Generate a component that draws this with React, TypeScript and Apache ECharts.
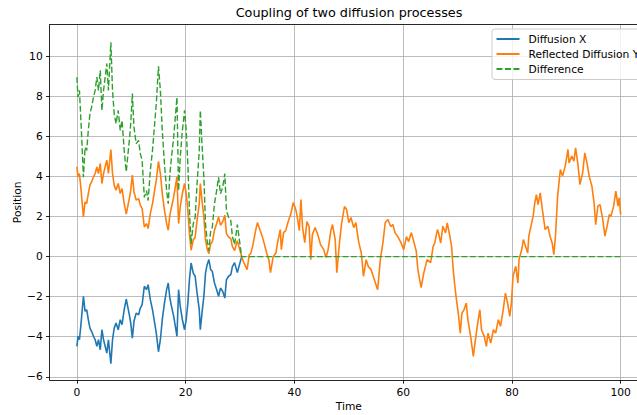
import React, { useEffect, useRef } from "react";
import * as echarts from "echarts";

// Before coupling: times and values of Diffusion X, Reflected Y and their difference
const timeBefore = [
  0.0, 0.2, 0.47, 0.77, 1.2, 1.5, 1.8, 2.1, 2.4, 2.7, 3.05, 3.36, 3.67, 3.97, 4.3, 4.6, 4.9, 5.2, 5.5, 5.8,
  6.25, 6.55, 6.86, 7.2, 7.6, 7.97, 8.3, 8.7, 9.08, 9.4, 9.7, 9.9, 10.2, 10.5, 10.9, 11.35, 11.66, 12.0, 12.4, 12.8,
  13.1, 13.5, 13.9, 14.2, 14.6, 15.0, 15.35, 15.7, 16.1, 16.5, 16.8, 17.1, 17.4, 17.8, 18.2, 18.4, 18.7, 19.0, 19.4, 19.8,
  20.1, 20.4, 20.7, 21.0, 21.4, 21.75, 22.1, 22.5, 22.7, 23.0, 23.35, 23.65, 23.95, 24.27, 24.6, 24.9, 25.3, 25.7, 26.05, 26.4,
  26.8, 27.2, 27.5, 27.9, 28.3, 28.6, 29.0, 29.5, 30.0, 30.3,
];
const diffusionX = [
  -4.48, -3.98, -4.15, -3.32, -1.98, -2.73, -2.65, -3.15, -3.57, -3.73, -3.98, -4.15, -4.48, -4.15, -4.65, -3.65, -4.15, -4.48, -4.82, -4.15,
  -5.35, -4.15, -3.57, -3.32, -3.65, -3.15, -3.4, -2.65, -2.12, -2.57, -2.98, -3.32, -4.07, -3.23, -2.82, -2.9, -2.57, -2.4, -1.48, -1.65,
  -1.4, -2.15, -2.65, -3.15, -3.82, -4.75, -4.15, -3.15, -2.32, -1.65, -1.32, -2.07, -2.48, -2.98, -3.65, -3.98, -1.65, -2.48, -3.15, -3.65,
  -3.15, -2.32, -1.15, -0.32, -0.82, -0.98, -1.82, -2.65, -3.65, -2.82, -1.98, -0.82, -0.4, -0.15, -0.65, -0.73, -1.32, -1.65, -1.98, -1.57,
  -1.73, -2.07, -1.15, -0.98, -0.9, -0.5, -0.3, -0.8, -0.3, 0.0,
];
const reflectedBefore = [
  4.48, 3.98, 4.15, 3.32, 1.98, 2.73, 2.65, 3.15, 3.57, 3.73, 3.98, 4.15, 4.48, 4.15, 4.65, 3.65, 4.15, 4.48, 4.82, 4.15,
  5.35, 4.15, 3.57, 3.32, 3.65, 3.15, 3.4, 2.65, 2.12, 2.57, 2.98, 3.32, 4.07, 3.23, 2.82, 2.9, 2.57, 2.4, 1.48, 1.65,
  1.4, 2.15, 2.65, 3.15, 3.82, 4.75, 4.15, 3.15, 2.32, 1.65, 1.32, 2.07, 2.48, 2.98, 3.65, 3.98, 1.65, 2.48, 3.15, 3.65,
  3.15, 2.32, 1.15, 0.32, 0.82, 0.98, 1.82, 2.65, 3.65, 2.82, 1.98, 0.82, 0.4, 0.15, 0.65, 0.73, 1.32, 1.65, 1.98, 1.57,
  1.73, 2.07, 1.15, 0.98, 0.9, 0.5, 0.3, 0.8, 0.3, 0.0,
];
const differenceBefore = [
  8.96, 7.96, 8.3, 6.64, 3.96, 5.46, 5.3, 6.3, 7.14, 7.46, 7.96, 8.3, 8.96, 8.3, 9.3, 7.3, 8.3, 8.96, 9.64, 8.3,
  10.7, 8.3, 7.14, 6.64, 7.3, 6.3, 6.8, 5.3, 4.24, 5.14, 5.96, 6.64, 8.14, 6.46, 5.64, 5.8, 5.14, 4.8, 2.96, 3.3,
  2.8, 4.3, 5.3, 6.3, 7.64, 9.5, 8.3, 6.3, 4.64, 3.3, 2.64, 4.14, 4.96, 5.96, 7.3, 7.96, 3.3, 4.96, 6.3, 7.3,
  6.3, 4.64, 2.3, 0.64, 1.64, 1.96, 3.64, 5.3, 7.3, 5.64, 3.96, 1.64, 0.8, 0.3, 1.3, 1.46, 2.64, 3.3, 3.96, 3.14,
  3.46, 4.14, 2.3, 1.96, 1.8, 1.0, 0.6, 1.6, 0.6, 0.0,
];

// After coupling: Reflected Y follows X, difference is zero
const timeAfter = [
  30.7, 31.3, 31.7, 31.96, 32.3, 32.9, 33.2, 33.7, 34.1, 34.4, 34.9, 35.3, 35.6, 36.1, 36.6, 36.9, 37.4, 37.6, 38.0, 38.4,
  38.8, 39.3, 39.8, 40.3, 40.6, 40.9, 41.2, 41.5, 41.9, 42.3, 42.7, 43.0, 43.3, 43.8, 44.3, 44.8, 45.4, 45.8, 46.2, 46.7,
  47.0, 47.5, 47.8, 48.3, 48.7, 49.2, 49.6, 50.0, 50.4, 50.9, 51.3, 51.8, 52.3, 52.7, 53.2, 53.6, 54.1, 54.7, 55.3, 55.8,
  56.3, 56.7, 57.2, 57.7, 58.1, 58.5, 59.0, 59.6, 60.1, 60.6, 61.0, 61.5, 62.0, 62.4, 62.7, 63.3, 63.8, 64.4, 65.05, 65.5,
  65.8, 66.3, 66.5, 66.9, 67.3, 67.8, 68.1, 68.6, 68.9, 69.2, 69.5, 69.8, 70.2, 70.5, 70.8, 71.2, 71.6, 71.9, 72.4, 72.9,
  73.2, 73.7, 74.1, 74.4, 74.9, 75.3, 75.6, 76.1, 76.6, 77.0, 77.5, 77.9, 78.4, 78.8, 79.2, 79.6, 79.9, 80.2, 80.7, 81.1,
  81.3, 81.8, 82.1, 82.5, 82.9, 83.1, 83.5, 83.9, 84.2, 84.5, 84.8, 85.2, 85.6, 86.1, 86.6, 87.0, 87.4, 87.7, 88.0, 88.4,
  88.9, 89.3, 89.8, 90.3, 90.5, 91.0, 91.4, 91.7, 92.1, 92.5, 93.0, 93.4, 93.8, 94.2, 94.7, 95.1, 95.4, 95.8, 96.2, 96.7,
  97.1, 97.5, 97.9, 98.2, 98.7, 99.1, 99.5, 99.7, 100.0,
];
const reflectedAfter = [
  -0.3, -0.65, 0.1, 0.15, 0.5, 1.35, 1.7, 1.3, 1.0, 0.7, 0.18, -0.15, -0.8, 0.0, 0.18, 0.7, 1.35, 0.35, 1.2, 1.3,
  1.7, 2.1, 2.7, 2.3, 1.85, 1.3, 2.85, 1.45, 0.7, 1.75, 1.5, -0.15, 1.1, 1.45, 1.1, 0.6, 0.35, -0.05, 0.35, 1.3,
  1.6, 0.85, -0.8, 0.75, 1.7, 2.5, 2.35, 1.7, 1.95, 1.45, 1.7, 0.75, 0.18, -0.98, -0.15, -0.5, -0.65, -1.15, -1.65, -0.15,
  0.75, 1.7, 1.85, 1.5, 1.6, 1.2, 1.0, 0.7, 0.35, 1.0, 0.75, 1.2, 0.7, 0.28, -0.65, -1.55, -0.8, -0.15, -0.3, 0.5,
  0.68, 1.35, 1.18, 0.68, 1.52, 1.18, 1.68, 1.0, 0.5, -0.65, -1.48, -2.15, -2.98, -3.82, -2.82, -2.65, -2.32, -3.15, -3.98, -4.98,
  -4.32, -3.32, -2.65, -3.65, -3.98, -4.48, -3.82, -4.32, -3.65, -3.82, -3.15, -3.48, -2.65, -1.82, -2.32, -2.98, -2.32, -0.98, -0.48, -1.32,
  -0.15, 0.35, 0.85, 0.52, 0.18, 1.02, 1.52, 2.02, 2.68, 3.1, 2.6, 3.18, 2.35, 1.35, 1.52, 1.02, 0.68, 0.1, 1.02, 3.02,
  4.35, 4.02, 4.52, 5.35, 4.68, 5.02, 4.77, 5.43, 4.68, 3.6, 4.18, 5.18, 4.68, 4.02, 3.52, 2.68, 1.6, 2.52, 2.6, 1.85,
  1.02, 1.52, 2.1, 2.02, 2.52, 3.27, 2.52, 2.93, 2.1,
];
const timeDifferenceAfter = [30.3, 100.0];
const differenceAfter = [0.0, 0.0];

// Tick positions shown on the axes
const xTicks = [0, 20, 40, 60, 80, 100];
const yTicks = [-6, -4, -2, 0, 2, 4, 6, 8, 10];

const FONT = "DejaVu Sans";

export default function App() {
  const ref = useRef<HTMLDivElement>(null);

  useEffect(() => {
    document.body.style.margin = "0";
    if (!ref.current) return;
    const chart = echarts.init(ref.current, null, { renderer: "svg" });

    const xData = timeBefore.map((t, i) => [t, diffusionX[i]]);
    const yData = timeBefore
      .map((t, i) => [t, reflectedBefore[i]])
      .concat(timeAfter.map((t, i) => [t, reflectedAfter[i]]));
    const dData = timeBefore
      .map((t, i) => [t, differenceBefore[i]])
      .concat(timeDifferenceAfter.map((t, i) => [t, differenceAfter[i]]));

    const minusFmt = (v: number) => String(v).replace("-", "\u2212");
    const isTick = (list: number[], v: number) => list.some((t) => Math.abs(t - v) < 1e-6);

    const option: any = {
      animation: false,
      backgroundColor: "#ffffff",
      textStyle: { fontFamily: FONT },
      title: {
        text: "Coupling of two diffusion processes",
        left: 349,
        top: 6,
        textAlign: "center",
        padding: 0,
        textStyle: { fontFamily: FONT, fontSize: 12.8, fontWeight: "normal", color: "#000" },
      },
      legend: {
        orient: "vertical",
        left: 492,
        top: 29,
        itemWidth: 23,
        itemHeight: 11,
        itemGap: 4,
        padding: [4.5, 6, 5, 3.5],
        backgroundColor: "rgba(255,255,255,0.8)",
        borderColor: "#cccccc",
        borderWidth: 1,
        borderRadius: 3,
        itemStyle: { opacity: 0, borderWidth: 0 },
        textStyle: { fontFamily: FONT, fontSize: 10.7, color: "#000", padding: [0, 0, 0, 4] },
        data: ["Diffusion X", "Reflected Diffusion Y", "Difference"],
      },
      grid: {
        left: 49.7,
        top: 24.7,
        width: 598.2,
        height: 355.3,
        containLabel: false,
        outerBoundsMode: "none",
      },
      xAxis: [
        {
          type: "value",
          min: -5,
          max: 105,
          minInterval: 20,
          maxInterval: 20,
          name: "Time",
          nameLocation: "middle",
          nameGap: 21,
          nameMoveOverlap: false,
          nameTextStyle: { fontFamily: FONT, fontSize: 10.7, color: "#000" },
          axisLine: { show: true, onZero: false, lineStyle: { color: "#000", width: 0.85 } },
          axisTick: {
            show: true,
            inside: false,
            length: 3.7,
            customValues: xTicks,
            lineStyle: { color: "#000", width: 0.85 },
          },
          axisLabel: {
            margin: 7,
            fontFamily: FONT,
            fontSize: 10.7,
            color: "#000",
            formatter: (v: number) => (isTick(xTicks, v) ? minusFmt(v) : ""),
          },
          splitLine: { show: true, lineStyle: { color: "#b0b0b0", width: 0.85 } },
        },
        {
          type: "value",
          position: "top",
          min: -5,
          max: 105,
          axisLine: { show: true, onZero: false, lineStyle: { color: "#000", width: 0.85 } },
          axisTick: { show: false },
          axisLabel: { show: false },
          splitLine: { show: false },
        },
      ],
      yAxis: [
        {
          type: "value",
          min: -6.16,
          max: 11.58,
          minInterval: 2,
          maxInterval: 2,
          name: "Position",
          nameLocation: "middle",
          nameGap: 27,
          nameMoveOverlap: false,
          nameTextStyle: { fontFamily: FONT, fontSize: 10.7, color: "#000" },
          axisLine: { show: true, onZero: false, lineStyle: { color: "#000", width: 0.85 } },
          axisTick: {
            show: true,
            inside: false,
            length: 3.7,
            customValues: yTicks,
            lineStyle: { color: "#000", width: 0.85 },
          },
          axisLabel: {
            margin: 7,
            fontFamily: FONT,
            fontSize: 10.7,
            color: "#000",
            formatter: (v: number) => (isTick(yTicks, v) ? minusFmt(Math.round(v)) : ""),
          },
          splitLine: { show: true, lineStyle: { color: "#b0b0b0", width: 0.85 } },
        },
      ],
      series: [
        {
          name: "Diffusion X",
          type: "line",
          data: xData,
          symbol: "none",
          showSymbol: false,
          lineStyle: { color: "#1f77b4", width: 1.6 },
          itemStyle: { color: "#1f77b4" },
          z: 2,
        },
        {
          name: "Reflected Diffusion Y",
          type: "line",
          data: yData,
          symbol: "none",
          showSymbol: false,
          lineStyle: { color: "#ff7f0e", width: 1.6 },
          itemStyle: { color: "#ff7f0e" },
          z: 3,
        },
        {
          name: "Difference",
          type: "line",
          data: dData,
          symbol: "none",
          showSymbol: false,
          lineStyle: { color: "#2ca02c", width: 1.4, type: [5.9, 2.6] },
          itemStyle: { color: "#2ca02c" },
          z: 4,
        },
      ],
    };

    chart.setOption(option);
    return () => chart.dispose();
  }, []);

  return <div ref={ref} style={{ width: 637, height: 415 }} />;
}
